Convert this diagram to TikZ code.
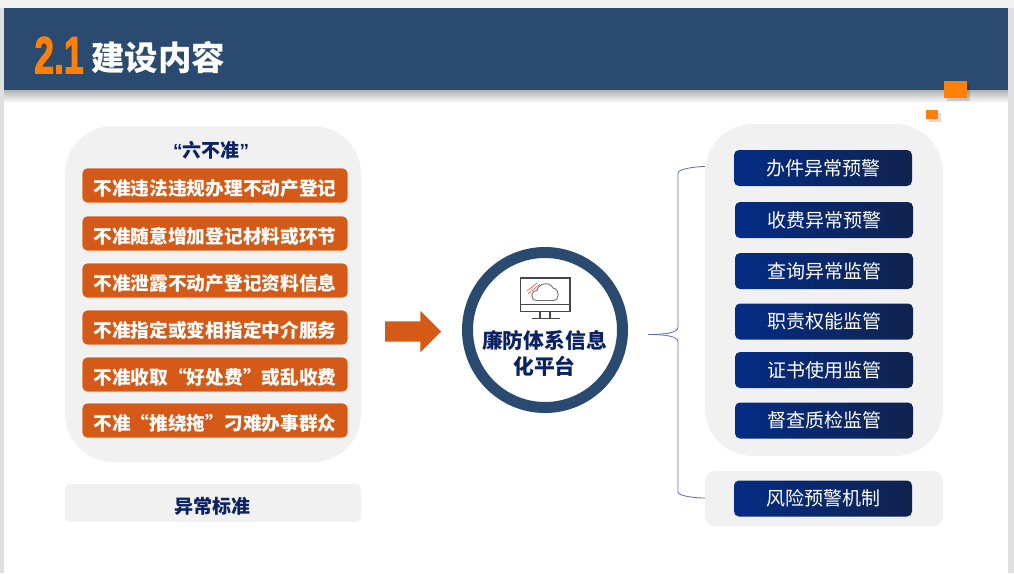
\documentclass[tikz,border=0pt]{standalone}
\usepackage{fontspec}
\setmainfont{Noto Sans CJK SC}
\newfontfamily\latinfont{Liberation Sans}
\newfontfamily\numberfont{Liberation Sans}[BoldFeatures={FakeBold=2.5}]
\usepackage{xcolor}
\usepackage{tikz}
\usetikzlibrary{arrows.meta}
\usetikzlibrary{shapes}
\usetikzlibrary{positioning}
\tikzset{>=latex}

\definecolor{headblue}{HTML}{2A4A70}
\definecolor{panelgray}{HTML}{F1F1F2}
\definecolor{ruleorange}{HTML}{D55A17}
\definecolor{markorange}{HTML}{FF8008}
\definecolor{darknavy}{HTML}{0A2262}
\definecolor{boxleft}{HTML}{032C84}
\definecolor{boxright}{HTML}{10234F}
\definecolor{bracecolor}{HTML}{5B6DB0}

\begin{document}
\begin{tikzpicture}[
        x=1pt, y=-1pt,
        panel/.style={fill=panelgray, inner sep=0pt, outer sep=0pt},
        rulebox/.style={draw=white, line width=0.7pt, fill=ruleorange, rounded corners=5pt, inner sep=0pt,
            minimum width=266pt, minimum height=35pt, text=white, font=\fontsize{18.7}{22}\selectfont\bfseries},
        alertbox/.style={rounded corners=5pt, left color=boxleft, right color=boxright, inner sep=0pt,
            minimum width=178pt, minimum height=36pt, text=white, font=\fontsize{19}{22}\selectfont},
        navytext/.style={text=darknavy, inner sep=0pt, font=\fontsize{19}{25}\selectfont\bfseries},
        markbox/.style={fill=markorange, inner sep=0pt},
        iconline/.style={draw=black!72, line width=1.3pt}
    ]
    \useasboundingbox (0,0) rectangle (1014,573);

    %=== Slide background ===%
    \fill[black!12] (0,0) rectangle (1014,573);
    \fill[black!5] (0,0) rectangle (1014,8);
    \fill[white] (4,8) rectangle (1008,573);

    %=== Header ===%
    \shade[top color=black!30, bottom color=white] (4,90) rectangle (1008,103);
    \node[fill=headblue, inner sep=0pt, outer sep=0pt, minimum width=1004pt, minimum height=82pt] (header) at (506,49) {};
    \node[text=markorange, inner sep=0pt, font=\numberfont\fontsize{52}{52}\selectfont\bfseries] (number) at (59,55) {\scalebox{0.68}[1]{2.1}};
    \node[text=white, inner sep=0pt, font=\fontsize{33.5}{36}\selectfont\bfseries] (title) at (158,58) {建设内容};
    \fill[black, opacity=0.15] (947,84) rectangle (970,101);
    \fill[black, opacity=0.15] (929,113) rectangle (941,122);
    \node[markbox, minimum width=23pt, minimum height=17pt] (markbig) at (955.5,89.5) {};
    \node[markbox, minimum width=12pt, minimum height=9pt] (marksmall) at (932,114.5) {};

    %=== Left panels ===%
    \node[panel, rounded corners=48pt, minimum width=296pt, minimum height=336pt] (ruleback) at (213,294) {};
    \node[panel, rounded corners=6pt, minimum width=296pt, minimum height=38pt] (normback) at (213,503) {};
    \node[navytext] (ruletitle) at (211,150) {{\latinfont “}六不准{\latinfont ”}};
    \node[navytext] (normtitle) at (212.5,506) {异常标准};

    %=== Macro to place boxes ===%
    % #1 = node name
    % #2 = y of the centre
    % #3 = text
    \newcommand{\ruleitem}[3]{
        \node[rulebox] (#1) at (215,#2) {\raisebox{-9.5pt}[0pt][0pt]{#3}};
    }
    % #1 = node name
    % #2 = x of the centre
    % #3 = y of the centre
    % #4 = text
    \newcommand{\alertitem}[4]{
        \node[alertbox] (#1) at (#2,#3) {#4};
    }

    \ruleitem{ruleA}{185.5}{不准违法违规办理不动产登记}
    \ruleitem{ruleB}{233.5}{不准随意增加登记材料或环节}
    \ruleitem{ruleC}{280.5}{不准泄露不动产登记资料信息}
    \ruleitem{ruleD}{327.5}{不准指定或变相指定中介服务}
    \ruleitem{ruleE}{374.5}{不准收取“好处费”或乱收费}
    \ruleitem{ruleF}{420.5}{不准“推绕拖”刁难办事群众}

    %=== Arrow and platform ===%
    \node[single arrow, fill=ruleorange, inner xsep=0pt, inner ysep=10pt, outer sep=0pt, minimum height=56pt, minimum width=41pt,
        single arrow head extend=10.5pt, single arrow tip angle=90] (mainarrow) at (408,331.5) {};
    \node[circle, draw=headblue, line width=11pt, fill=white, inner sep=0pt, minimum size=155pt] (platform) at (545,330) {};
    \node[navytext, align=center, font=\fontsize{20.8}{26}\selectfont\bfseries] (platformtext) at (544.5,353.5) {廉防体系信息\\化平台};

    % Monitor icon
    \draw[iconline] (520.5,278) rectangle (570,311.5);
    \draw[iconline] (520.5,304.5) -- (570,304.5);
    \draw[iconline] (540,311.5) -- (540,318) (550,311.5) -- (550,318);
    \draw[iconline] (531.5,318.5) -- (559.5,318.5);
    \draw[draw=black!55, line width=0.9pt] (537,300.5) .. controls (530,300.5) and (530,291) .. (537,290.5)
        .. controls (538,284) and (549,280.5) .. (553,288) .. controls (560,289) and (560,300.5) .. (553,300.5) -- cycle;
    \draw[red!70, line width=0.6pt] (527,291) -- (537,283) (528,294) -- (540,284);

    %=== Right panels ===%
    \node[panel, rounded corners=48pt, minimum width=238pt, minimum height=332pt] (alertback) at (824,290) {};
    \node[panel, rounded corners=10pt, minimum width=238pt, minimum height=55pt] (riskback) at (824,498.5) {};

    \alertitem{alertA}{823}{168}{办件异常预警}
    \alertitem{alertB}{824}{220}{收费异常预警}
    \alertitem{alertC}{824}{271}{查询异常监管}
    \alertitem{alertD}{824}{321.5}{职责权能监管}
    \alertitem{alertE}{824}{370}{证书使用监管}
    \alertitem{alertF}{824}{420.5}{督查质检监管}
    \alertitem{alertG}{823}{498.5}{风险预警机制}

    %=== Brace ===%
    \coordinate (bracetip) at (648,334.5);
    \coordinate (bracetop) at (705,166.5);
    \coordinate (bracebot) at (705,498);
    \draw[draw=bracecolor, line width=0.8pt] (bracetip) .. controls (665,334.5) and (678,333) .. (678,327)
        -- (678,173) .. controls (678,169) and (695,166.5) .. (bracetop);
    \draw[draw=bracecolor, line width=0.8pt] (bracetip) .. controls (665,334.5) and (678,336) .. (678,342)
        -- (678,492) .. controls (678,496) and (695,498) .. (bracebot);

\end{tikzpicture}
\end{document}
